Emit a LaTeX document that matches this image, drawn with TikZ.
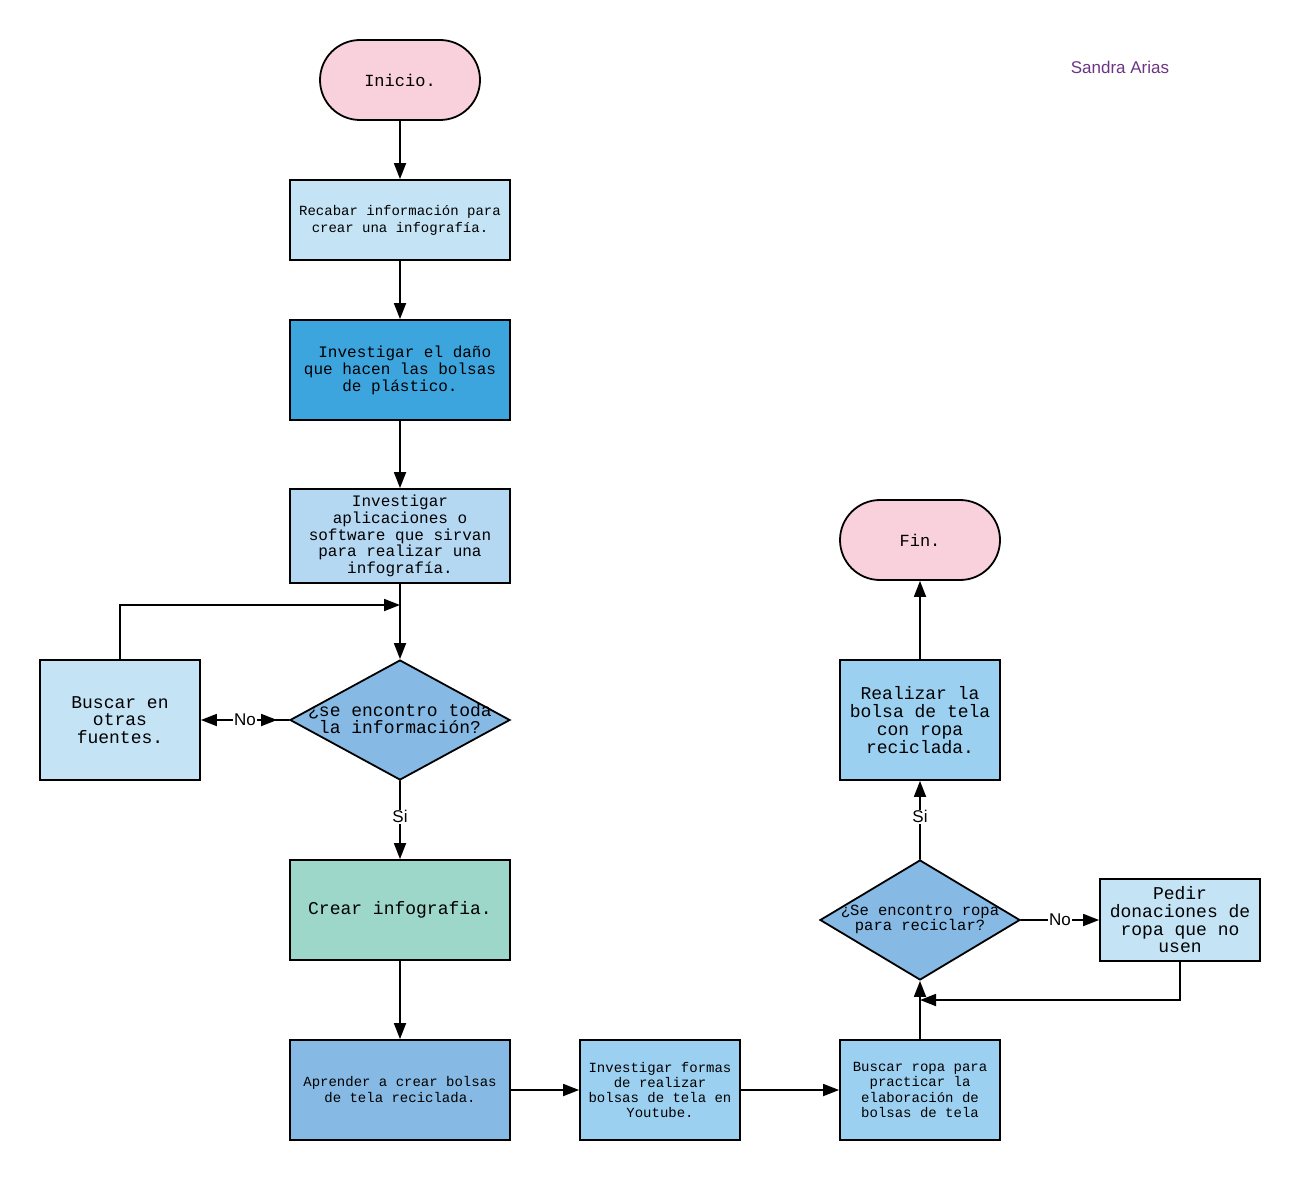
\documentclass[tikz,border=0pt]{standalone}
\usepackage{fontspec}
\setmainfont{Liberation Sans}
\setmonofont{Liberation Mono}
\usetikzlibrary{shapes.geometric,arrows.meta}
\definecolor{rosa}{HTML}{F8D1DC}
\definecolor{celeste}{HTML}{C4E4F6}
\definecolor{azulfuerte}{HTML}{3DA5DE}
\definecolor{azulclaro}{HTML}{B4D7F2}
\definecolor{azulmedio}{HTML}{86B9E4}
\definecolor{cielo}{HTML}{9CD0F1}
\definecolor{menta}{HTML}{9DD7C9}
\definecolor{morado}{HTML}{6C3484}

\begin{document}
\begin{tikzpicture}[x=1pt,y=-1pt,line cap=round,
	caja/.style={draw,line width=1.8pt,rectangle,inner sep=0pt,align=center,minimum width=220pt,minimum height=100pt},
	chica/.style={caja,minimum width=160pt},
	terminal/.style={caja,fill=rosa,rounded corners=40pt,minimum width=160pt,minimum height=80pt},
	decision/.style={draw,line width=1.8pt,diamond,inner sep=0pt,fill=azulmedio},
	tt/.style 2 args={font=\ttfamily\fontsize{#1}{#2}\selectfont},
	flecha/.style={-{Triangle[length=16pt,width=12pt]},line width=1.8pt},
	etiqueta/.style={fill=white,inner sep=1pt,font=\fontsize{17}{17}\selectfont}]
	\useasboundingbox (0,0) rectangle (1300,1180);

	% columna izquierda
	\node (inicio) [terminal,tt={17}{17}] at (400,80) {Inicio.};
	\node (recabar) [caja,fill=celeste,minimum height=80pt,tt={14}{17}] at (400,220) {Recabar información para\\crear una infografía.};
	\node (danio) [caja,fill=azulfuerte,tt={16}{17}] at (400,370) {\ Investigar el daño\\que hacen las bolsas\\de plástico.};
	\node (apps) [caja,fill=azulclaro,minimum height=94pt,tt={16}{16.7}] at (400,536) {Investigar\\aplicaciones o\\software que sirvan\\para realizar una\\infografía.};
	\node (pregunta) [decision,minimum width=220pt,minimum height=120pt] at (400,720) {};
	\node (preguntatxt) [tt={18}{17},align=center] at (400,719) {¿se encontro toda\\la información?};
	\node (fuentes) [chica,fill=celeste,minimum height=120pt,tt={18}{17.5}] at (120,720) {Buscar en\\otras\\fuentes.};
	\node (crear) [caja,fill=menta,tt={18}{17}] at (400,910) {Crear infografia.};
	\node (aprender) [caja,fill=azulmedio,tt={14}{16}] at (400,1090) {Aprender a crear bolsas\\de tela reciclada.};

	% fila de abajo y columna derecha
	\node (youtube) [chica,fill=cielo,tt={14}{15.3}] at (660,1090) {Investigar formas\\de realizar\\bolsas de tela en\\Youtube.};
	\node (ropa) [chica,fill=cielo,tt={14}{15.3}] at (920,1090) {Buscar ropa para\\practicar la\\elaboración de\\bolsas de tela};
	\node (reciclar) [decision,minimum width=200pt,minimum height=120pt] at (920,920) {};
	\node (reciclartxt) [tt={15.5}{15},align=center] at (920,919) {¿Se encontro ropa\\para reciclar?};
	\node (donaciones) [chica,fill=celeste,minimum height=82pt,tt={18}{17.7}] at (1180,920) {Pedir\\donaciones de\\ropa que no\\usen};
	\node (realizar) [chica,fill=cielo,minimum height=120pt,tt={18}{18}] at (920,720) {Realizar la\\bolsa de tela\\con ropa\\reciclada.};
	\node (fin) [terminal,tt={17}{17}] at (920,540) {Fin.};

	\node (autora) [text=morado,font=\fontsize{17}{17}\selectfont] at (1120,67) {Sandra Arias};

	\coordinate (union) at (400,605);
	\coordinate (junta) at (920,1000);

	\draw[flecha] (inicio) -- (recabar);
	\draw[flecha] (recabar) -- (danio);
	\draw[flecha] (danio) -- (apps);
	\draw[flecha] (apps) -- (pregunta);
	\draw[flecha] (fuentes.north) |- (union);
	\draw[flecha] (pregunta.west) -- node[etiqueta] (no1) {No} (fuentes.east);
	\draw[flecha] (no1.east) -- ([xshift=-12pt]pregunta.west);
	\draw[flecha] (pregunta.south) -- node[etiqueta,pos=0.46] (si1) {Si} (crear.north);
	\draw[flecha] (crear) -- (aprender);
	\draw[flecha] (aprender) -- (youtube);
	\draw[flecha] (youtube) -- (ropa);
	\draw[flecha] (ropa.north) -- (reciclar.south);
	\draw[flecha] (reciclar.east) -- node[etiqueta] (no2) {No} (donaciones.west);
	\draw[flecha] (donaciones.south) |- (junta);
	\draw[flecha] (reciclar.north) -- node[etiqueta,pos=0.54] (si2) {Si} (realizar.south);
	\draw[flecha] (realizar) -- (fin);
\end{tikzpicture}
\end{document}
